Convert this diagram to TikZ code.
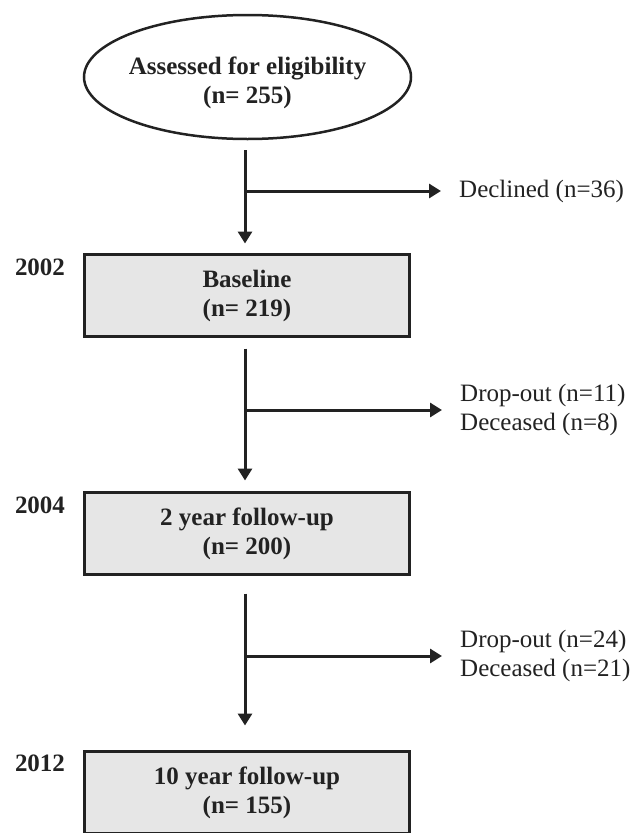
\documentclass[tikz,border=0pt]{standalone}
\usepackage{fontspec}
\setmainfont{Liberation Serif}
\usetikzlibrary{arrows.meta,shapes.geometric}
\definecolor{ink}{HTML}{222222}
\definecolor{boxgray}{HTML}{E6E6E6}
\begin{document}
\begin{tikzpicture}[x=1pt,y=-1pt,
  every node/.style={font=\fontsize{25}{29}\selectfont, text=ink},
  stage/.style={draw=ink, line width=3pt, fill=boxgray, minimum width=325pt,
    minimum height=82pt, align=center, inner sep=0pt,
    font=\bfseries\fontsize{25}{29}\selectfont},
  oval/.style={draw=ink, line width=2.5pt, ellipse, minimum width=327pt,
    minimum height=124pt, inner sep=0pt},
  year/.style={font=\bfseries\fontsize{25}{29}\selectfont, inner sep=0pt},
  side/.style={anchor=west, align=left, inner sep=0pt},
  arr/.style={draw=ink, line width=3pt, -{Triangle[length=12pt,width=14pt]}},
  branch/.style={arr, shorten >=18pt}
]
\useasboundingbox (0,0) rectangle (644,833);

% nodes
\node[oval] (elig) at (247.5,77) {};
\node[align=center, inner sep=0pt, font=\bfseries\fontsize{25}{29}\selectfont] (eligtxt) at (247.5,83) {Assessed for eligibility\\(n= 255)};

\node[stage] (base) at (247,295.5) {Baseline\\(n= 219)};
\node[stage] (fu2) at (247,533.5) {2 year follow-up\\(n= 200)};
\node[stage] (fu10) at (247,792.5) {10 year follow-up\\(n= 155)};

\node[year] (y2002) at (40,267) {2002};
\node[year] (y2004) at (40,505) {2004};
\node[year] (y2012) at (40,763) {2012};

\node[side] (dec) at (459,191) {Declined (n=36)};
\node[side] (out1) at (460,409.5) {Drop-out (n=11)\\Deceased (n=8)};
\node[side] (out2) at (460,655.5) {Drop-out (n=24)\\Deceased (n=21)};

% junctions on the main line
\coordinate (j1) at (245,191);
\coordinate (j2) at (245,410);
\coordinate (j3) at (245,656);

% main flow
\draw[arr] ([xshift=-2.5pt,yshift=-10pt]elig.south) -- ([xshift=-2pt,yshift=9.5pt]base.north);
\draw[arr] ([xshift=-2pt,yshift=-10.5pt]base.south) -- ([xshift=-2pt,yshift=10.5pt]fu2.north);
\draw[arr] ([xshift=-2pt,yshift=-17.5pt]fu2.south) -- ([xshift=-2pt,yshift=24.5pt]fu10.north);

% exits
\draw[branch] (j1) -- (j1 -| dec.west);
\draw[branch] (j2) -- (j2 -| out1.west);
\draw[branch] (j3) -- (j3 -| out2.west);
\end{tikzpicture}
\end{document}
